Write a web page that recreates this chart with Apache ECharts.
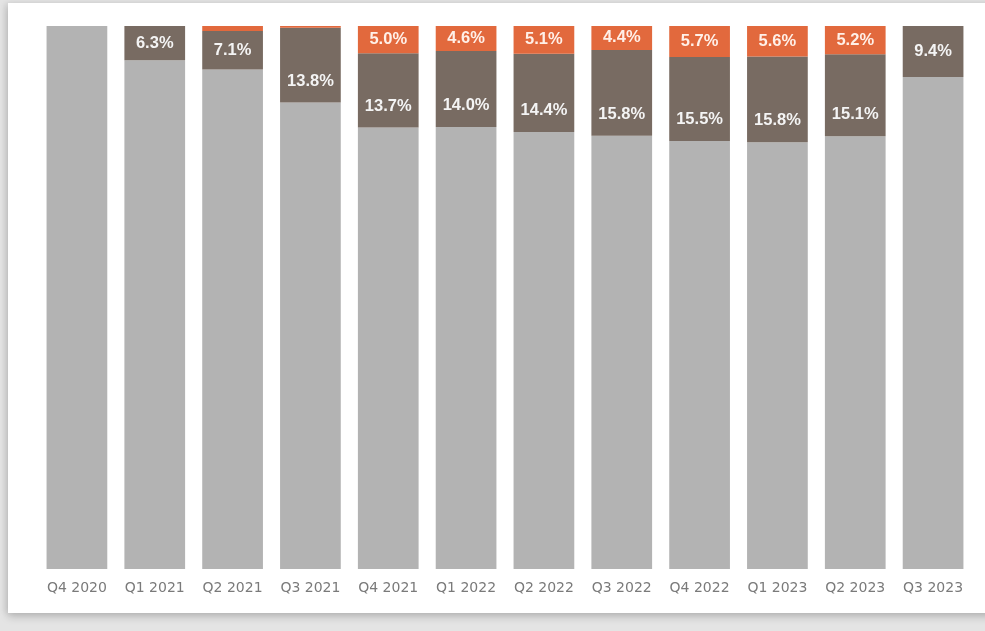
<!DOCTYPE html>
<html>
<head>
<meta charset="utf-8">
<script src="https://cdn.jsdelivr.net/npm/echarts@6/dist/echarts.min.js"></script>
<style>
html,body{margin:0;padding:0;width:985px;height:631px;overflow:hidden;background:#e4e4e4;}
#card{position:absolute;left:8px;top:3px;width:985px;height:610px;background:#fff;box-shadow:0 4px 8px rgba(0,0,0,0.18), -3px 0 6px rgba(0,0,0,0.08);}
#chart{position:absolute;left:0;top:0;width:985px;height:631px;}
</style>
</head>
<body>
<div id="card"></div>
<div id="chart"></div>
<script>
const categories = ['Q4 2020','Q1 2021','Q2 2021','Q3 2021','Q4 2021','Q1 2022','Q2 2022','Q3 2022','Q4 2022','Q1 2023','Q2 2023','Q3 2023'];
const orangeShare = [0, 0, 0.9, 0.3, 5.0, 4.6, 5.1, 4.4, 5.7, 5.6, 5.2, 0];
const darkShare   = [0, 6.3, 7.1, 13.8, 13.7, 14.0, 14.4, 15.8, 15.5, 15.8, 15.1, 9.4];
const grayShare = categories.map((c, i) => +(100 - orangeShare[i] - darkShare[i]).toFixed(1));

const labelMin = 2;
const fmt = p => (p.value >= labelMin ? p.value.toFixed(1) + '%' : '');

const labelFont = { color: '#f4f4f4', fontWeight: 'bold', fontSize: 16.5, fontFamily: 'Liberation Sans' };
const darkData = darkShare.map(v => v >= 10
  ? { value: v, label: { position: 'insideBottom', distance: 13 } }
  : { value: v, label: { position: 'inside' } });

const chart = echarts.init(document.getElementById('chart'));
chart.setOption({
  animation: false,
  grid: { left: 38, right: 13, top: 26, bottom: 62 },
  xAxis: {
    type: 'category',
    data: categories,
    axisLine: { show: false },
    axisTick: { show: false },
    axisLabel: { interval: 0, color: '#7a7a7a', fontSize: 14, fontFamily: 'DejaVu Sans', margin: 12 }
  },
  yAxis: { type: 'value', min: 0, max: 100, show: false },
  series: [
    {
      name: 'Other', type: 'bar', stack: 's', data: grayShare, barWidth: '78%',
      itemStyle: { color: '#b3b3b3' }
    },
    {
      name: 'Mid', type: 'bar', stack: 's', data: darkData,
      itemStyle: { color: '#786b62' },
      label: Object.assign({ show: true, formatter: fmt }, labelFont)
    },
    {
      name: 'Top', type: 'bar', stack: 's', data: orangeShare,
      itemStyle: { color: '#e2693d' },
      label: Object.assign({ show: true, position: 'inside', formatter: fmt }, labelFont, { color: '#fff0e8' })
    }
  ]
});
</script>
</body>
</html>
